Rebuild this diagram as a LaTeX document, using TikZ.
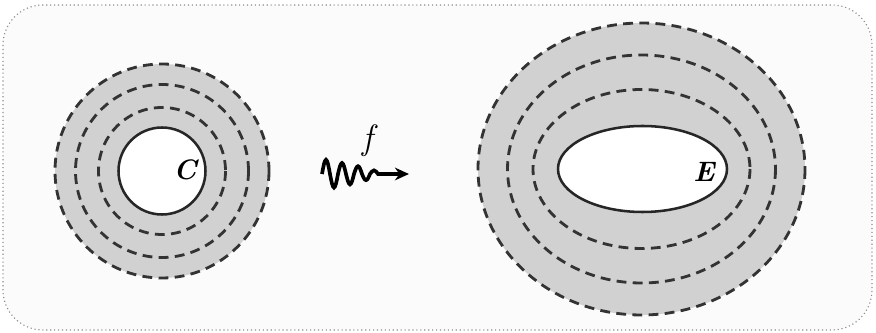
\documentclass[tikz,border=0pt]{standalone}
\usepackage{fontspec}
\usepackage{tikz}
\usetikzlibrary{arrows.meta}

\begin{document}
\begin{tikzpicture}[
  x=0.025cm, y=-0.025cm,
  >=Stealth,
  frame/.style={draw=black!45, dotted, line width=0.8pt, rounded corners=1cm, fill=black!1.5},
  band/.style={fill=black!18, draw=none},
  level/.style={draw=black!80, line width=2pt, dash pattern=on 7pt off 4.5pt},
  rim/.style={draw=black!85, line width=1.8pt, fill=white},
  lbl/.style={font=\fontsize{20}{22}\selectfont\bfseries\itshape},
  wave/.style={-{Stealth[length=10pt,width=9pt]}, line width=2.6pt, black},
]

\useasboundingbox (0,0) rectangle (876,333);
\draw[frame] (3,5) rectangle (872,330);

% disc around C
\fill[band] (162,171) circle [radius=107];
\draw[level] (162,171) circle [radius=107];
\draw[level] (162,171) circle [radius=86.5];
\draw[level] (162,171) circle [radius=63.5];
\draw[rim] (162,171) circle [radius=43.5];
\node[lbl] (C) at (185,170) {C};

% region around E
\fill[band] (641.5,169) ellipse [x radius=163.5, y radius=146];
\draw[level] (641.5,169) ellipse [x radius=163.5, y radius=146];
\draw[level] (641.5,169) ellipse [x radius=134, y radius=114];
\draw[level] (641.5,169) ellipse [x radius=108.5, y radius=79.5];
\draw[rim] (642.5,169) ellipse [x radius=84.5, y radius=43];
\node[lbl] (E) at (704,172) {E};

% the map f
\coordinate (wstart) at (322,174);
\coordinate (wend) at (409,174);
\draw[wave] (wstart) sin (326,159.8) cos (330,174) sin (334,187.6) cos (338,174)
  sin (342,163) cos (346,174) sin (350,184.4) cos (354,174)
  sin (358,166.2) cos (362,174) sin (366,180.2) cos (370,174)
  sin (374,170.4) cos (378,174) -- (wend);
\node[font=\fontsize{25}{27}\selectfont\itshape] (f) at (368,141) {f};

\end{tikzpicture}
\end{document}
